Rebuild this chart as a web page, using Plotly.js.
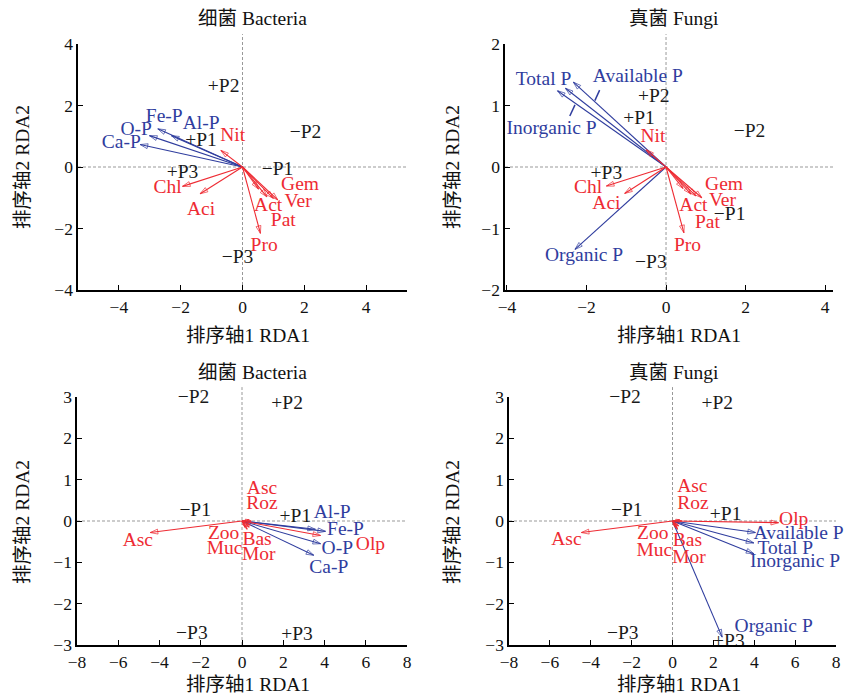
<!DOCTYPE html>
<html><head><meta charset="utf-8">
<script src="https://cdn.plot.ly/plotly-3.0.1.min.js"></script>
<style>body{margin:0;background:#fff}#c{width:846px;height:695px}</style>
</head><body><div id="c"></div>
<script>
// ---------- Panel 1: 细菌 Bacteria (top) ----------
const p1EnvNames = ['Fe-P','Al-P','O-P','Ca-P'];
const p1EnvX = [-2.74,-2.30,-3.01,-3.31];
const p1EnvY = [1.24,1.02,1.02,0.73];
const p1EnvLabX = [-2.53,-1.34,-3.44,-3.92];
const p1EnvLabY = [1.63,1.41,1.19,0.78];
const p1TaxNames = ['Nit','Chl','Aci','Gem','Ver','Act','Pat','Pro'];
const p1TaxX = [-0.70,-1.94,-1.37,1.14,1.00,0.79,0.52,0.58];
const p1TaxY = [0.54,-0.63,-0.87,-1.07,-1.02,-0.97,-0.72,-2.16];
const p1TaxLabX = [-0.32,-2.42,-1.34,1.86,1.80,0.83,1.32,0.70];
const p1TaxLabY = [1.00,-0.68,-1.39,-0.60,-1.15,-1.28,-1.77,-2.58];
const p1SampNames = ['+P2','\u2212P2','+P1','\u2212P1','+P3','\u2212P3'];
const p1SampX = [-0.61,2.04,-1.34,1.13,-1.94,-0.16];
const p1SampY = [2.60,1.11,0.83,-0.09,-0.20,-2.96];

// ---------- Panel 2: 真菌 Fungi (top) ----------
const p2EnvNames = ['Inorganic P','Total P','Available P','Organic P'];
const p2EnvX = [-2.73,-2.53,-2.33,-2.29];
const p2EnvY = [1.24,1.28,1.38,-1.34];
const p2EnvLabX = [-2.88,-3.08,-0.71,-2.06];
const p2EnvLabY = [0.61,1.42,1.46,-1.45];
const p2TaxNames = ['Nit','Chl','Aci','Gem','Ver','Act','Pat','Pro'];
const p2TaxX = [-0.50,-1.50,-1.04,0.90,0.75,0.63,0.43,0.45];
const p2TaxY = [0.28,-0.31,-0.43,-0.50,-0.47,-0.44,-0.35,-1.07];
const p2TaxLabX = [-0.33,-1.96,-1.50,1.46,1.42,0.69,1.04,0.54];
const p2TaxLabY = [0.49,-0.34,-0.61,-0.30,-0.56,-0.64,-0.91,-1.29];
const p2SampNames = ['+P2','\u2212P2','+P1','\u2212P1','+P3','\u2212P3'];
const p2SampX = [-0.31,2.10,-0.68,1.60,-1.50,-0.38];
const p2SampY = [1.14,0.57,0.78,-0.78,-0.11,-1.56];
const p2LeaderX = [-1.79,-1.67,null,-2.42,-2.29];
const p2LeaderY = [1.08,1.25,null,0.83,1.01];

// ---------- Panel 3: 细菌 Bacteria (bottom) ----------
const p3EnvNames = ['Al-P','Fe-P','O-P','Ca-P'];
const p3EnvX = [3.56,4.05,3.81,3.48];
const p3EnvY = [-0.20,-0.25,-0.55,-0.83];
const p3EnvLabX = [4.37,5.02,4.62,4.21];
const p3EnvLabY = [0.20,-0.23,-0.67,-1.14];
const p3TaxNames = ['Asc','Olp','Asc','Roz','Zoo','Muc','Bas','Mor'];
const p3TaxX = [-4.45,3.81,0.35,0.45,0.15,0.25,0.35,0.40];
const p3TaxY = [-0.28,-0.35,0.03,0.00,-0.15,-0.20,-0.15,-0.10];
const p3TaxLabX = [-5.05,6.23,0.97,0.97,-0.89,-0.84,0.73,0.81];
const p3TaxLabY = [-0.49,-0.59,0.78,0.40,-0.31,-0.69,-0.47,-0.83];
const p3SampNames = ['\u2212P2','+P2','\u2212P1','+P1','\u2212P3','+P3'];
const p3SampX = [-2.35,2.19,-2.27,2.59,-2.43,2.67];
const p3SampY = [2.98,2.82,0.23,0.10,-2.73,-2.77];

// ---------- Panel 4: 真菌 Fungi (bottom) ----------
const p4EnvNames = ['Available P','Total P','Inorganic P','Organic P'];
const p4EnvX = [4.06,3.98,3.98,2.43];
const p4EnvY = [-0.28,-0.53,-0.79,-2.81];
const p4EnvLabX = [6.17,5.52,6.00,4.95];
const p4EnvLabY = [-0.32,-0.67,-0.99,-2.57];
const p4TaxNames = ['Olp','Asc','Asc','Roz','Zoo','Muc','Bas','Mor'];
const p4TaxX = [5.19,-4.46,0.35,0.45,0.15,0.25,0.30,0.20];
const p4TaxY = [-0.04,-0.28,0.03,0.00,-0.15,-0.20,-0.12,-0.15];
const p4TaxLabX = [5.93,-5.19,0.97,1.00,-0.97,-0.89,0.73,0.81];
const p4TaxLabY = [0.02,-0.47,0.81,0.42,-0.31,-0.73,-0.48,-0.91];
const p4SampNames = ['\u2212P2','+P2','\u2212P1','+P1','\u2212P3','+P3'];
const p4SampX = [-2.32,2.19,-2.24,2.60,-2.43,2.76];
const p4SampY = [2.98,2.82,0.23,0.14,-2.73,-2.93];

// ---------- styling ----------
const FONT = '"Liberation Serif", "Times New Roman", "Noto Sans CJK SC", serif';
const RED = '#ee2b33';
const BLUE = '#2f3d9e';
const BLACK = '#1a1a1a';
const LAB = 19.5;

function arrows(tx, ty, color, xa, ya, width, small) {
  const x = [], y = [], sym = [], sz = [];
  tx.forEach((v, i) => {
    const len = Math.hypot(v, ty[i]);
    x.push(0, v, null); y.push(0, ty[i], null);
    sym.push('circle', 'arrow-open', 'circle');
    sz.push(0, len < small ? 4 : 8, 0);
  });
  return {type:'scatter', mode:'lines+markers', x, y, xaxis:xa, yaxis:ya,
    line:{color, width}, marker:{symbol:sym, size:sz, color, angleref:'previous', line:{color, width:1}},
    hoverinfo:'skip', showlegend:false, cliponaxis:false};
}
function labels(x, y, t, color, xa, ya) {
  return {type:'scatter', mode:'text', x, y, text:t, xaxis:xa, yaxis:ya,
    textposition:'middle center', textfont:{family:FONT, size:LAB, color},
    hoverinfo:'skip', showlegend:false, cliponaxis:false};
}

const traces = [
  arrows(p1EnvX, p1EnvY, BLUE, 'x', 'y', 1.1, 0),
  arrows(p1TaxX, p1TaxY, RED, 'x', 'y', 1.1, 0),
  labels(p1EnvLabX, p1EnvLabY, p1EnvNames, BLUE, 'x', 'y'),
  labels(p1TaxLabX, p1TaxLabY, p1TaxNames, RED, 'x', 'y'),
  labels(p1SampX, p1SampY, p1SampNames, BLACK, 'x', 'y'),

  arrows(p2EnvX, p2EnvY, BLUE, 'x2', 'y2', 1.1, 0),
  arrows(p2TaxX, p2TaxY, RED, 'x2', 'y2', 1.1, 0),
  {type:'scatter', mode:'lines', x:p2LeaderX, y:p2LeaderY, xaxis:'x2', yaxis:'y2',
    line:{color:BLUE, width:1.5}, hoverinfo:'skip', showlegend:false},
  labels(p2EnvLabX, p2EnvLabY, p2EnvNames, BLUE, 'x2', 'y2'),
  labels(p2TaxLabX, p2TaxLabY, p2TaxNames, RED, 'x2', 'y2'),
  labels(p2SampX, p2SampY, p2SampNames, BLACK, 'x2', 'y2'),

  arrows(p3EnvX, p3EnvY, BLUE, 'x3', 'y3', 1.1, 1),
  arrows(p3TaxX, p3TaxY, RED, 'x3', 'y3', 1.1, 1),
  labels(p3EnvLabX, p3EnvLabY, p3EnvNames, BLUE, 'x3', 'y3'),
  labels(p3TaxLabX, p3TaxLabY, p3TaxNames, RED, 'x3', 'y3'),
  labels(p3SampX, p3SampY, p3SampNames, BLACK, 'x3', 'y3'),

  arrows(p4EnvX, p4EnvY, BLUE, 'x4', 'y4', 1.1, 1),
  arrows(p4TaxX, p4TaxY, RED, 'x4', 'y4', 1.1, 1),
  labels(p4EnvLabX, p4EnvLabY, p4EnvNames, BLUE, 'x4', 'y4'),
  labels(p4TaxLabX, p4TaxLabY, p4TaxNames, RED, 'x4', 'y4'),
  labels(p4SampX, p4SampY, p4SampNames, BLACK, 'x4', 'y4')
];

const W = 846, H = 695;
function xax(d0, d1, range, dtick, anchor) {
  return {domain:[d0/W, d1/W], range, dtick, tick0:0, anchor, showgrid:false, zeroline:false,
    showline:true, linecolor:'#000', linewidth:1.6, ticks:'inside', ticklen:5, tickcolor:'#000',
    tickfont:{family:FONT, size:17.5, color:'#111'}, fixedrange:true};
}
function yax(top, bot, range, dtick, anchor) {
  return {domain:[1 - bot/H, 1 - top/H], range, dtick, tick0:0, anchor, showgrid:false, zeroline:false,
    showline:true, linecolor:'#000', linewidth:1.6, ticks:'inside', ticklen:5, tickcolor:'#000',
    tickfont:{family:FONT, size:17.5, color:'#111'}, fixedrange:true};
}

function dashed(xr, yr) {
  return [
    {type:'line', xref:xr, yref:yr + ' domain', x0:0, x1:0, y0:0, y1:1.04, line:{color:'#999', width:1, dash:'3px,2px'}, layer:'below'},
    {type:'line', xref:xr + ' domain', yref:yr, x0:0, x1:1, y0:0, y1:0, line:{color:'#999', width:1, dash:'3px,2px'}, layer:'below'}
  ];
}
function ann(text, x, y, angle) {
  return {text, x:x/W, y:1 - y/H, xref:'paper', yref:'paper', showarrow:false, textangle:angle||0,
    font:{family:FONT, size:19.5, color:'#111'}, xanchor:'center', yanchor:'middle'};
}

const layout = {
  width:W, height:H, margin:{l:0, r:0, t:0, b:0}, paper_bgcolor:'#fff', plot_bgcolor:'#fff',
  showlegend:false, font:{family:FONT},
  xaxis: xax(78, 407, [-5.32, 5.32], 2, 'y'),
  yaxis: yax(44, 290, [-4, 4], 2, 'x'),
  xaxis2: xax(505, 833, [-4.05, 4.2], 2, 'y2'),
  yaxis2: yax(44, 290, [-2, 2], 1, 'x2'),
  xaxis3: xax(77, 407, [-8, 8], 2, 'y3'),
  yaxis3: yax(397, 645, [-3, 3], 1, 'x3'),
  xaxis4: xax(509, 836, [-8, 8], 2, 'y4'),
  yaxis4: yax(397, 645, [-3, 3], 1, 'x4'),
  shapes: [].concat(dashed('x','y'), dashed('x2','y2'), dashed('x3','y3'), dashed('x4','y4')),
  annotations: [
    ann('细菌 Bacteria', 252, 18), ann('真菌 Fungi', 674, 18),
    ann('细菌 Bacteria', 252, 372), ann('真菌 Fungi', 674, 372),
    ann('排序轴1 RDA1', 248, 335), ann('排序轴1 RDA1', 679, 335),
    ann('排序轴1 RDA1', 248, 684), ann('排序轴1 RDA1', 679, 684),
    ann('排序轴2 RDA2', 22, 167, -90), ann('排序轴2 RDA2', 452, 167, -90),
    ann('排序轴2 RDA2', 22, 522, -90), ann('排序轴2 RDA2', 452, 522, -90)
  ]
};

Plotly.newPlot('c', traces, layout, {staticPlot:true, displayModeBar:false});
</script>
</body></html>
